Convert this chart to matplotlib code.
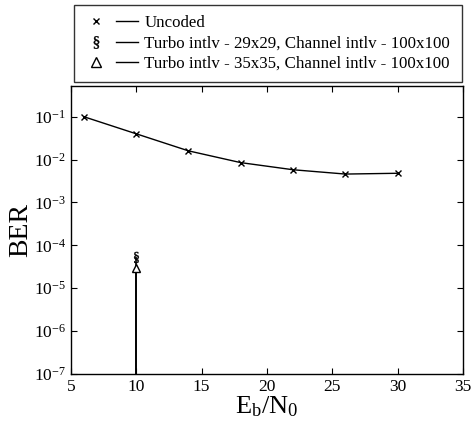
import matplotlib
matplotlib.use("Agg")
import matplotlib.pyplot as plt
from matplotlib.lines import Line2D
from matplotlib.legend_handler import HandlerTuple

# data
ebn0_uncoded = [6, 10, 14, 18, 22, 26, 30]
ber_uncoded = [0.10, 0.040, 0.016, 0.0085, 0.0058, 0.0046, 0.0048]
ebn0_turbo29 = [10]
ber_turbo29 = [5.3e-5]
ebn0_turbo35 = [10]
ber_turbo35 = [3.0e-5]
labels = ["Uncoded",
          "Turbo intlv - 29x29, Channel intlv - 100x100",
          "Turbo intlv - 35x35, Channel intlv - 100x100"]
xticks = [5, 10, 15, 20, 25, 30, 35]
yticks = [1e-7, 1e-6, 1e-5, 1e-4, 1e-3, 1e-2, 1e-1]

plt.rcParams['font.family'] = ['Liberation Serif', 'DejaVu Serif']
plt.rcParams['mathtext.fontset'] = 'custom'
plt.rcParams['mathtext.rm'] = 'Liberation Serif'
plt.rcParams['mathtext.it'] = 'Liberation Serif'

fig = plt.figure(figsize=(4.72, 4.25), dpi=100)
ax = fig.add_axes([0.150, 0.120, 0.831, 0.678])

ymin = 1e-7
ax.plot(ebn0_uncoded, ber_uncoded, color='black', lw=1.0, marker='x', ms=4, mew=1.0)
ax.vlines(ebn0_turbo29, ymin, ber_turbo29, color='black', lw=1.2)
ax.vlines(ebn0_turbo35, ymin, ber_turbo35, color='black', lw=1.2)
ax.plot(ebn0_turbo29, ber_turbo29, ls='none', marker=r'$\S$', ms=8, color='black', mew=0.3)
ax.plot(ebn0_turbo35, ber_turbo35, ls='none', marker='^', ms=6, mfc='white', mec='black', mew=1.0)

ax.set_yscale('log')
ax.set_xlim(5, 35)
ax.set_ylim(ymin, 10 ** -0.28)
ax.set_xticks(xticks)
ax.set_yticks(yticks)
ax.minorticks_off()
ax.tick_params(direction='in', top=True, right=True, labelsize=12.5, length=4, width=0.8)
for s in ax.spines.values():
    s.set_linewidth(1.0)

ax.set_xlabel(r'E$_\mathrm{b}$/N$_0$', fontsize=19, labelpad=0)
ax.set_ylabel('BER', fontsize=20, labelpad=0)

def mk(m, **kw):
    return Line2D([], [], ls='none', marker=m, color='black', **kw)

def ln():
    return Line2D([], [], color='black', lw=1.0)

handles = [(mk('x', ms=5), ln()),
           (mk(r'$\S$', ms=9, mew=0.3), ln()),
           (mk('^', ms=7, mfc='white', mec='black'), ln())]
leg = fig.legend(handles, labels, handler_map={tuple: HandlerTuple(ndivide=None, pad=0.5)},
                 loc='upper left', bbox_to_anchor=(0.157, 0.812, 0.822, 0.176), mode='expand',
                 fontsize=12.2, handlelength=3.2, handletextpad=0.35, labelspacing=0.25,
                 borderpad=0.6, borderaxespad=0, fancybox=False, frameon=True)
leg.get_frame().set_edgecolor('black')
leg.get_frame().set_linewidth(1.0)

fig.savefig('out.png', dpi=100)
